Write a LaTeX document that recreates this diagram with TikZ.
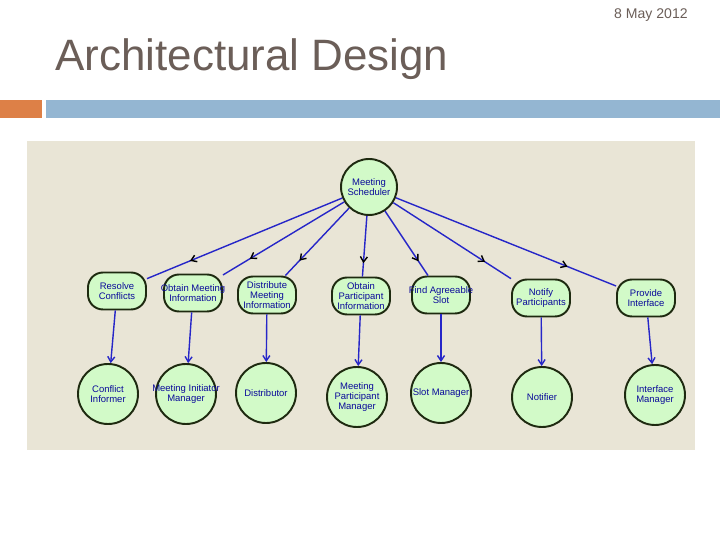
\documentclass[tikz,border=0pt]{standalone}
\usepackage{fontspec}
\setmainfont{Liberation Sans}
\usepackage{tikz}
\usetikzlibrary{arrows.meta}
\usetikzlibrary{decorations.markings}
\usetikzlibrary{shapes.geometric}
\definecolor{titlegray}{HTML}{6B5E58}
\definecolor{barorange}{HTML}{DD8047}
\definecolor{barblue}{HTML}{94B6D2}
\definecolor{panelbg}{HTML}{E9E5D6}
\definecolor{nodefill}{HTML}{D2FAC8}
\definecolor{nodeline}{HTML}{1E2A10}
\definecolor{edgeblue}{HTML}{2626C8}
\definecolor{labelblue}{HTML}{0A0A9A}
\newcommand{\squeezeline}[1]{\makebox[0.9cm]{#1}}
\tikzstyle{nodetext} = [text=labelblue, font=\fontsize{5.4}{5.6}\selectfont, align=center, inner sep=1pt]
\tikzstyle{tasknode} = [nodetext, draw=nodeline, line width=1.1pt, fill=nodefill, rounded corners=0.3cm, minimum width=1.16cm, minimum height=0.74cm]
\tikzstyle{agentnode} = [nodetext, draw=nodeline, line width=1.1pt, fill=nodefill, circle, minimum size=1.2cm]
\tikzstyle{decomp} = [draw=edgeblue, line width=0.8pt, postaction={decorate}, decoration={markings, mark=at position 0.78 with {\arrow[black]{Straight Barb[length=3pt, width=4pt]}}}]
\tikzstyle{assign} = [draw=edgeblue, line width=0.8pt, -{Straight Barb[length=3pt, width=4pt]}]

\begin{document}
\begin{tikzpicture}[x=0.02cm, y=-0.02cm]
    \useasboundingbox (0,0) rectangle (720,540);

    % slide header
    \node[anchor=east, text=titlegray, font=\fontsize{8}{9}\selectfont, inner sep=0] (slide_date) at (688,15) {8 May 2012};
    \node[anchor=west, text=titlegray, font=\fontsize{25}{28}\selectfont, inner sep=0] (slide_title) at (55,59) {Architectural Design};
    \fill[barorange] (0,100) rectangle (42,118);
    \fill[barblue] (46,100) rectangle (720,118);
    \fill[panelbg] (27,141) rectangle (695,450);

    % goal
    \node[agentnode, minimum size=1.12cm] (sch_top) at (369,187) {Meeting\\Scheduler};

    % tasks
    \node[tasknode] (task_resolve) at (117,291) {Resolve\\Conflicts};
    \node[tasknode] (task_obtmeet) at (193,293) {\squeezeline{Obtain Meeting}\\Information};
    \node[tasknode] (task_distrib) at (267,295) {Distribute\\Meeting\\Information};
    \node[tasknode] (task_obtpart) at (361,296) {Obtain\\Participant\\Information};
    \node[tasknode] (task_findslot) at (441,295) {\squeezeline{Find Agreeable}\\Slot};
    \node[tasknode] (task_notify) at (541,298) {Notify\\Participants};
    \node[tasknode] (task_iface) at (646,298) {Provide\\Interface};

    % agents
    \node[agentnode] (ag_conflict) at (108,394) {Conflict\\Informer};
    \node[agentnode] (ag_initiator) at (186,394) {\squeezeline{Meeting Initiator}\\Manager};
    \node[agentnode] (ag_distrib) at (266,393) {Distributor};
    \node[agentnode] (ag_partic) at (357,397) {Meeting\\Participant\\Manager};
    \node[agentnode] (ag_slot) at (441,393) {\squeezeline{Slot Manager}};
    \node[agentnode] (ag_notifier) at (542,397) {Notifier};
    \node[agentnode] (ag_iface) at (655,395) {Interface\\Manager};

    \foreach \t in {task_resolve, task_obtmeet, task_distrib, task_obtpart, task_findslot, task_notify, task_iface}
        \path[decomp] (sch_top) -- (\t);

    \draw[assign] (task_resolve) -- (ag_conflict);
    \draw[assign] (task_obtmeet) -- (ag_initiator);
    \draw[assign] (task_distrib) -- (ag_distrib);
    \draw[assign] (task_obtpart) -- (ag_partic);
    \draw[assign] (task_findslot) -- (ag_slot);
    \draw[assign] (task_notify) -- (ag_notifier);
    \draw[assign] (task_iface) -- (ag_iface);
\end{tikzpicture}
\end{document}
